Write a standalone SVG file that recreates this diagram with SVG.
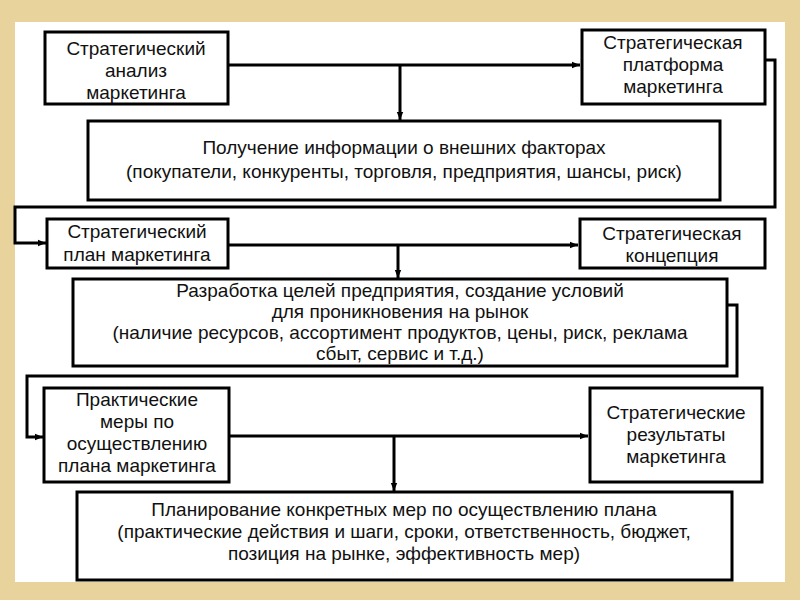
<svg xmlns="http://www.w3.org/2000/svg" width="800" height="600" viewBox="0 0 800 600">
<defs>
<marker id="a" viewBox="0 0 10 10" refX="10" refY="5" markerWidth="12" markerHeight="8" markerUnits="userSpaceOnUse" orient="auto"><path d="M0,1 L10,5 L0,9 z" fill="#000"/></marker>
</defs>
<style>
.b{fill:#fff;stroke:#000;stroke-width:3}
.c{fill:none;stroke:#000;stroke-width:3}
text{font-family:"Liberation Sans",Arial,sans-serif;font-size:19px;text-anchor:middle;fill:#111}
</style>
<rect width="800" height="600" fill="#e8d39c"/>
<rect x="15" y="22" width="770" height="560" fill="#fff"/>
<g id="connectors">
<path class="c" d="M228,65 H580" marker-end="url(#a)"/>
<path class="c" d="M400,65 V120" marker-end="url(#a)"/>
<path class="c" d="M765,60 H775 V207 H15 V243 H46" marker-end="url(#a)"/>
<path class="c" d="M228,245 H578" marker-end="url(#a)"/>
<path class="c" d="M398,245 V278" marker-end="url(#a)"/>
<path class="c" d="M727,305 H737 V376 H27 V437 H43" marker-end="url(#a)"/>
<path class="c" d="M229,436 H588" marker-end="url(#a)"/>
<path class="c" d="M394,436 V491" marker-end="url(#a)"/>
</g>
<g id="n1"><rect class="b" x="45" y="32" width="183" height="72"/><text x="136" y="55">Стратегический</text><text x="136" y="77">анализ</text><text x="136" y="99">маркетинга</text></g>
<g id="n2"><rect class="b" x="582" y="30" width="183" height="74"/><text x="673" y="49">Стратегическая</text><text x="673" y="71">платформа</text><text x="673" y="93">маркетинга</text></g>
<g id="n3"><rect class="b" x="88" y="121" width="632" height="79"/><text x="404" y="154">Получение информации о внешних факторах</text><text x="404" y="178">(покупатели, конкуренты, торговля, предприятия, шансы, риск)</text></g>
<g id="n4"><rect class="b" x="47" y="219" width="181" height="49"/><text x="137" y="238">Стратегический</text><text x="137" y="261">план маркетинга</text></g>
<g id="n5"><rect class="b" x="580" y="219" width="185" height="49"/><text x="672" y="240">Стратегическая</text><text x="672" y="262">концепция</text></g>
<g id="n6"><rect class="b" x="73" y="279" width="654" height="87"/><text x="400" y="297">Разработка целей предприятия, создание условий</text><text x="400" y="318">для проникновения на рынок</text><text x="400" y="339">(наличие ресурсов, ассортимент продуктов, цены, риск, реклама</text><text x="400" y="360">сбыт, сервис и т.д.)</text></g>
<g id="n7"><rect class="b" x="44" y="388" width="185" height="94"/><text x="137" y="406">Практические</text><text x="137" y="428">меры по</text><text x="137" y="450">осуществлению</text><text x="137" y="472">плана маркетинга</text></g>
<g id="n8"><rect class="b" x="590" y="388" width="172" height="94"/><text x="676" y="419">Стратегические</text><text x="676" y="441">результаты</text><text x="676" y="463">маркетинга</text></g>
<g id="n9"><rect class="b" x="77" y="492" width="655" height="88"/><text x="404" y="516">Планирование конкретных мер по осуществлению плана</text><text x="404" y="538">(практические действия и шаги, сроки, ответственность, бюджет,</text><text x="404" y="560">позиция на рынке, эффективность мер)</text></g>
</svg>
